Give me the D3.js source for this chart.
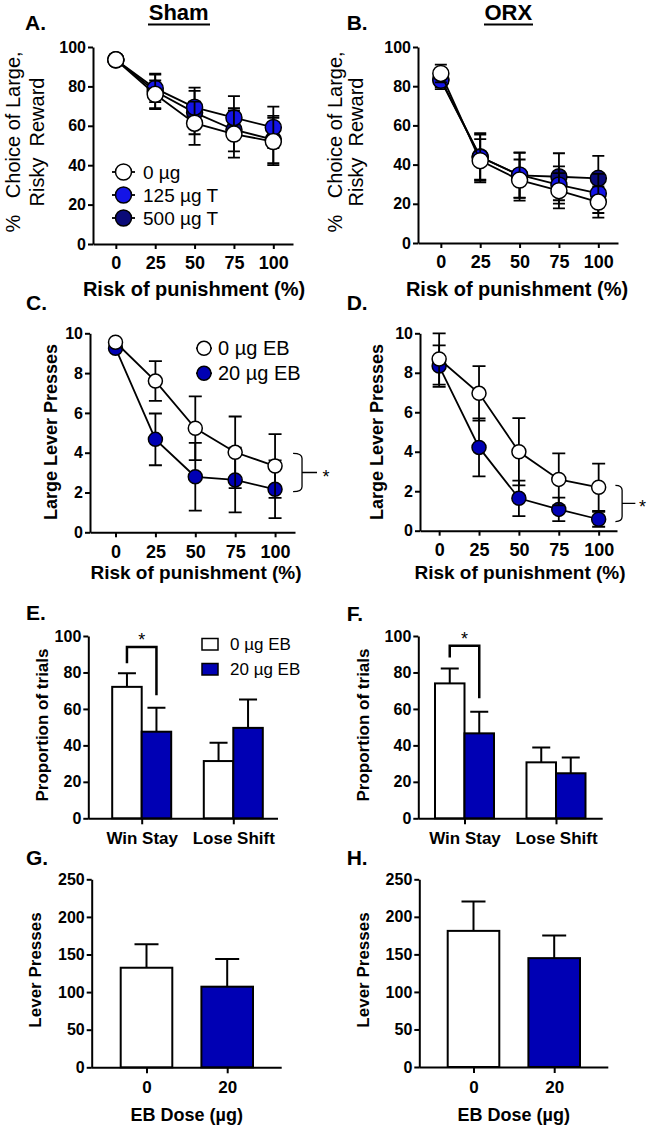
<!DOCTYPE html>
<html>
<head>
<meta charset="utf-8">
<script src="https://cdn.jsdelivr.net/npm/d3@7"></script>
<style>
  body { margin: 0; background: #fff; }
  svg text { fill: #000; }
</style>
</head>
<body>
<div id="fig"></div>
<script>
(function(){
  'use strict';

  // ---- data ----
  var riskLevels = [0, 25, 50, 75, 100];

  // A. Sham, % choice of large risky reward
  var shamVeh = [93.5, 76, 61.3, 55.8, 52],     shamVehErr = [1.5, 7, 11, 12, 12];
  var sham125 = [93.5, 79, 69.4, 64.1, 59.2],   sham125Err = [1.5, 7, 10, 11, 10.5];
  var sham500 = [93.5, 77.5, 66.7, 58, 53],     sham500Err = [1.5, 9, 11, 11, 12];

  // B. ORX
  var orxVeh = [86.5, 42, 32.1, 26.7, 20.9],    orxVehErr = [4.5, 11, 10.5, 9, 8];
  var orx125 = [83, 43.8, 34.7, 29.6, 25.3],    orx125Err = [4.5, 11.5, 11.5, 9.5, 10];
  var orx500 = [83.5, 44, 34.5, 33.8, 33],      orx500Err = [4, 12, 11.5, 12, 11.5];

  // C. Sham, large lever presses
  var shamEB0 = [9.55, 7.6, 5.23, 4.02, 3.33],  shamEB0Err = [0.15, 1.0, 1.6, 1.8, 1.6];
  var shamEB20 = [9.25, 4.67, 2.79, 2.63, 2.16], shamEB20Err = [0.15, 1.3, 1.7, 1.63, 1.45];

  // D. ORX, large lever presses
  var orxEB0 = [8.7, 6.96, 4.0, 2.6, 2.2],      orxEB0Err = [1.3, 1.38, 1.7, 1.32, 1.2];
  var orxEB20 = [8.34, 4.22, 1.64, 1.08, 0.58], orxEB20Err = [1.05, 1.47, 0.9, 0.6, 0.38];

  // E/F. win-stay / lose-shift
  var winLose = ['Win Stay', 'Lose Shift'];
  var shamWL0 = [72.1, 31.4],  shamWL0Err = [7.4, 10];
  var shamWL20 = [47.5, 49.6], shamWL20Err = [13.1, 15.6];
  var orxWL0 = [74, 30.7],     orxWL0Err = [8.2, 8.2];
  var orxWL20 = [46.6, 24.7],  orxWL20Err = [11.8, 8.7];

  // G/H. total lever presses
  var doses = ['0', '20'];
  var shamPress = [132.4, 107.2], shamPressErr = [31.2, 36.8];
  var orxPress = [181.3, 145],    orxPressErr = [39, 30];

  // significance annotations (data units)
  var shamWLSig = [85, 94, 67.5];   // left leg end, top, right leg end
  var orxWLSig = [88.2, 94.6, 65.8];
  var shamEBSig = [3.97, 2.04];
  var orxEBSig = [2.3, 0.46];

  var FONT = '"Liberation Sans", Arial, Helvetica, sans-serif';
  var blue = '#1414e6', navy = '#0a0a78', ebBlue = '#0000b4';

  var svg = d3.select('#fig').append('svg')
    .attr('width', 648)
    .attr('height', 1127)
    .style('background', '#fff');

  function txt(x, y, s, fs, opts) {
    opts = opts || {};
    var t = svg.append('text')
      .attr('x', x).attr('y', y)
      .attr('font-family', FONT)
      .attr('font-size', fs)
      .attr('font-weight', opts.bold ? 'bold' : 'normal')
      .attr('text-anchor', opts.anchor || 'start')
      .style('white-space', 'pre')
      .text(s);
    if (opts.dy) t.attr('dy', opts.dy);
    return t;
  }

  function vtxt(x, y, s, fs, bold) {
    return svg.append('text')
      .attr('transform', 'translate(' + x + ',' + y + ') rotate(-90)')
      .attr('dy', '0.35em')
      .attr('font-family', FONT)
      .attr('font-size', fs)
      .attr('font-weight', bold ? 'bold' : 'normal')
      .attr('text-anchor', 'middle')
      .style('white-space', 'pre')
      .text(s);
  }

  function styleAxis(sel, fs) {
    sel.select('.domain').attr('stroke-width', 2);
    sel.selectAll('.tick line').attr('stroke-width', 2);
    sel.selectAll('.tick text')
      .attr('font-size', fs)
      .attr('font-weight', 'bold')
      .attr('font-family', FONT);
  }

  // ---- line panels ----
  function linePanel(p) {
    var x = d3.scaleLinear().domain(p.xDom).range([p.left, p.right]),
        y = d3.scaleLinear().domain([0, p.yMax]).range([p.bottom, p.top]);

    svg.append('g')
      .attr('transform', 'translate(0,' + p.bottom + ')')
      .call(d3.axisBottom(x).tickValues(riskLevels).tickSize(5).tickSizeOuter(0).tickPadding(p.xPad))
      .call(styleAxis, p.xFont);

    svg.append('g')
      .attr('transform', 'translate(' + p.left + ',0)')
      .call(d3.axisLeft(y).tickValues(d3.range(0, p.yMax + p.yStep / 2, p.yStep)).tickSize(5).tickSizeOuter(0).tickPadding(2))
      .call(styleAxis, 16);

    var line = d3.line()
      .x(function(d) { return x(d.r); })
      .y(function(d) { return y(d.v); });

    p.series.forEach(function(s) {
      var pts = riskLevels.map(function(r, i) { return {r: r, v: s.vals[i], e: s.err[i]}; });
      var g = svg.append('g');

      g.selectAll('.eb').data(pts).enter().append('path')
        .attr('d', function(d) {
          var cx = x(d.r), y0 = y(d.v - d.e), y1 = y(d.v + d.e);
          return 'M' + cx + ',' + y0 + 'V' + y1 +
                 'M' + (cx - p.cap) + ',' + y0 + 'H' + (cx + p.cap) +
                 'M' + (cx - p.cap) + ',' + y1 + 'H' + (cx + p.cap);
        })
        .attr('fill', 'none').attr('stroke', '#000').attr('stroke-width', 1.8);

      g.append('path').datum(pts)
        .attr('d', line)
        .attr('fill', 'none').attr('stroke', '#000').attr('stroke-width', 1.8);

      g.selectAll('circle').data(pts).enter().append('circle')
        .attr('cx', function(d) { return x(d.r); })
        .attr('cy', function(d) { return y(d.v); })
        .attr('r', p.r)
        .attr('fill', s.fill)
        .attr('stroke', '#000').attr('stroke-width', 1.5);
    });

    return {x: x, y: y};
  }

  function brace(sc, xs, ys, starX) {
    var x0 = sc.x(xs[0]), x1 = sc.x(xs[1]), x2 = sc.x(xs[2]),
        yT = sc.y(ys[0]), yB = sc.y(ys[1]), ym = (yT + yB) / 2;
    svg.append('path')
      .attr('d', 'M' + x0 + ',' + yT + 'Q' + x1 + ',' + yT + ' ' + x1 + ',' + (yT + 5) +
                 'V' + (yB - 5) + 'Q' + x1 + ',' + yB + ' ' + x0 + ',' + yB +
                 'M' + x1 + ',' + ym + 'H' + x2)
      .attr('fill', 'none').attr('stroke', '#000').attr('stroke-width', 1.3);
    txt(sc.x(starX), ym + 10, '*', 18, {anchor: 'middle'});
  }

  // ---- bar panels ----
  function barPanel(p) {
    var x = d3.scalePoint().domain(p.groups).range(p.groupRange),
        y = d3.scaleLinear().domain([0, p.yMax]).range([p.bottom, p.top]);

    var xa = svg.append('g')
      .attr('transform', 'translate(0,' + p.bottom + ')')
      .call(d3.axisBottom(x).tickSize(6).tickSizeOuter(0).tickPadding(p.xPad))
      .call(styleAxis, 17);
    xa.select('.domain').attr('d', 'M' + p.left + ',0.5H' + p.right);

    svg.append('g')
      .attr('transform', 'translate(' + p.left + ',0)')
      .call(d3.axisLeft(y).tickValues(d3.range(0, p.yMax + p.yStep / 2, p.yStep)).tickSize(5).tickSizeOuter(0).tickPadding(2))
      .call(styleAxis, 16);

    var g = svg.append('g');
    var bx = function(d) { return x(d.group) + d.offset * p.barW; };

    g.selectAll('.eb').data(p.bars).enter().append('path')
      .attr('d', function(d) {
        var cx = bx(d) + p.barW / 2, y1 = y(d.value + d.err);
        return 'M' + cx + ',' + y(d.value) + 'V' + y1 +
               'M' + (cx - p.cap) + ',' + y1 + 'H' + (cx + p.cap);
      })
      .attr('fill', 'none').attr('stroke', '#000').attr('stroke-width', 2);

    g.selectAll('rect').data(p.bars).enter().append('rect')
      .attr('x', bx)
      .attr('y', function(d) { return y(d.value); })
      .attr('width', p.barW)
      .attr('height', function(d) { return y(0) - y(d.value); })
      .attr('fill', function(d) { return d.fill; })
      .attr('stroke', '#000').attr('stroke-width', 2);

    return {x: x, y: y, bx: bx, barW: p.barW, bars: p.bars};
  }

  function sigBar(sc, a, b, levels) {
    var xa = sc.bx(a) + sc.barW / 2, xb = sc.bx(b) + sc.barW / 2;
    svg.append('path')
      .attr('d', 'M' + xa + ',' + sc.y(levels[0]) + 'V' + sc.y(levels[1]) +
                 'H' + xb + 'V' + sc.y(levels[2]))
      .attr('fill', 'none').attr('stroke', '#000').attr('stroke-width', 2.5);
    txt((xa + xb) / 2, sc.y(levels[1]) - 1, '*', 18, {anchor: 'middle'});
  }

  function wlBars(v0, e0, v1, e1) {
    var out = [];
    winLose.forEach(function(gr, i) {
      out.push({group: gr, value: v0[i], err: e0[i], fill: '#fff', offset: -1});
      out.push({group: gr, value: v1[i], err: e1[i], fill: ebBlue, offset: 0});
    });
    return out;
  }

  function doseBars(v, e) {
    return doses.map(function(d, i) {
      return {group: d, value: v[i], err: e[i], fill: i ? ebBlue : '#fff', offset: -0.5};
    });
  }

  // ---- A / B ----
  linePanel({left: 93, right: 293, top: 47, bottom: 244, xDom: [-14.5, 112.5],
    yMax: 100, yStep: 20, r: 8, cap: 6, xFont: 18, xPad: 7,
    series: [
      {vals: sham500, err: sham500Err, fill: navy},
      {vals: sham125, err: sham125Err, fill: blue},
      {vals: shamVeh, err: shamVehErr, fill: '#fff'}
    ]});
  linePanel({left: 418, right: 618, top: 47, bottom: 243, xDom: [-14.5, 112.5],
    yMax: 100, yStep: 20, r: 8, cap: 6, xFont: 18, xPad: 7,
    series: [
      {vals: orx500, err: orx500Err, fill: navy},
      {vals: orx125, err: orx125Err, fill: blue},
      {vals: orxVeh, err: orxVehErr, fill: '#fff'}
    ]});

  // legend A
  [['0 \u00b5g', '#fff'], ['125 \u00b5g T', blue], ['500 \u00b5g T', navy]].forEach(function(l, i) {
    var ly = 172 + i * 23;
    svg.append('line').attr('x1', 112).attr('x2', 135).attr('y1', ly).attr('y2', ly)
      .attr('stroke', '#000').attr('stroke-width', 1.8);
    svg.append('circle').attr('cx', 123.5).attr('cy', ly).attr('r', 8)
      .attr('fill', l[1]).attr('stroke', '#000').attr('stroke-width', 1.5);
    txt(143, ly, l[0], 19, {dy: '0.35em'});
  });

  txt(178.7, 20, 'Sham', 22, {bold: true, anchor: 'middle'});
  svg.append('line').attr('x1', 148).attr('x2', 210).attr('y1', 24.5).attr('y2', 24.5)
    .attr('stroke', '#000').attr('stroke-width', 2);
  txt(508.3, 20, 'ORX', 22, {bold: true, anchor: 'middle'});
  svg.append('line').attr('x1', 484).attr('x2', 533).attr('y1', 24.5).attr('y2', 24.5)
    .attr('stroke', '#000').attr('stroke-width', 2);

  txt(25, 30, 'A.', 21, {bold: true});
  txt(346.7, 30, 'B.', 21, {bold: true});

  vtxt(13.3, 142, '%   Choice of Large,', 20);
  vtxt(36.5, 142, 'Risky  Reward', 20);
  vtxt(335, 142, '%   Choice of Large,', 20);
  vtxt(356, 142, 'Risky  Reward', 20);

  txt(194, 296, 'Risk of punishment (%)', 20, {bold: true, anchor: 'middle'});
  txt(517, 296, 'Risk of punishment (%)', 20, {bold: true, anchor: 'middle'});

  // ---- C / D ----
  var scC = linePanel({left: 90, right: 295, top: 333.3, bottom: 532.3, xDom: [-16, 112.5],
    yMax: 10, yStep: 2, r: 7, cap: 6.5, xFont: 18, xPad: 8,
    series: [
      {vals: shamEB20, err: shamEB20Err, fill: ebBlue},
      {vals: shamEB0, err: shamEB0Err, fill: '#fff'}
    ]});
  var scD = linePanel({left: 420, right: 617, top: 333.3, bottom: 530.7, xDom: [-12, 111.5],
    yMax: 10, yStep: 2, r: 7, cap: 6.5, xFont: 18, xPad: 8,
    series: [
      {vals: orxEB20, err: orxEB20Err, fill: ebBlue},
      {vals: orxEB0, err: orxEB0Err, fill: '#fff'}
    ]});

  brace(scC, [111.3, 116.9, 126.3], shamEBSig, 132);
  brace(scD, [110.5, 114.7, 123], orxEBSig, 127.5);

  [['0 \u00b5g EB', '#fff'], ['20 \u00b5g EB', ebBlue]].forEach(function(l, i) {
    var ly = 348.3 + i * 25;
    svg.append('line').attr('x1', 196).attr('x2', 212).attr('y1', ly).attr('y2', ly)
      .attr('stroke', '#000').attr('stroke-width', 1.8);
    svg.append('circle').attr('cx', 204).attr('cy', ly).attr('r', 7)
      .attr('fill', l[1]).attr('stroke', '#000').attr('stroke-width', 1.5);
    txt(218, ly, l[0], 20, {dy: '0.35em'});
  });

  txt(26, 310, 'C.', 21, {bold: true});
  txt(346.7, 310, 'D.', 21, {bold: true});
  vtxt(50.7, 432, 'Large Lever Presses', 18, true);
  vtxt(376.7, 432, 'Large Lever Presses', 18, true);
  txt(196, 578.5, 'Risk of punishment (%)', 19, {bold: true, anchor: 'middle'});
  txt(520, 578.5, 'Risk of punishment (%)', 19, {bold: true, anchor: 'middle'});

  // ---- E / F ----
  var scE = barPanel({left: 88.3, right: 278, top: 636, bottom: 818.3, groups: winLose,
    groupRange: [141.7, 233.3], barW: 29.5, cap: 9, yMax: 100, yStep: 20, xPad: 8,
    bars: wlBars(shamWL0, shamWL0Err, shamWL20, shamWL20Err)});
  var scF = barPanel({left: 418.3, right: 602.7, top: 636, bottom: 818.3, groups: winLose,
    groupRange: [464.5, 556], barW: 29.5, cap: 9, yMax: 100, yStep: 20, xPad: 8,
    bars: wlBars(orxWL0, orxWL0Err, orxWL20, orxWL20Err)});

  sigBar(scE, scE.bars[0], scE.bars[1], shamWLSig);
  sigBar(scF, scF.bars[0], scF.bars[1], orxWLSig);

  [['0 \u00b5g EB', '#fff'], ['20 \u00b5g EB', ebBlue]].forEach(function(l, i) {
    var ly = 638.5 + i * 25;
    svg.append('rect').attr('x', 202).attr('y', ly).attr('width', 16).attr('height', 11.5)
      .attr('fill', l[1]).attr('stroke', '#000').attr('stroke-width', 1.5);
    txt(230, ly + 6, l[0], 17, {dy: '0.35em'});
  });

  txt(26, 620, 'E.', 21, {bold: true});
  txt(346.7, 621, 'F.', 21, {bold: true});
  vtxt(41.7, 725, 'Proportion of trials', 17, true);
  vtxt(363.3, 725, 'Proportion of trials', 17, true);

  // ---- G / H ----
  barPanel({left: 91.7, right: 281.7, top: 879.3, bottom: 1067.3, groups: doses,
    groupRange: [146.5, 227.2], barW: 51.6, cap: 12, yMax: 250, yStep: 50, xPad: 8,
    bars: doseBars(shamPress, shamPressErr)});
  barPanel({left: 419.3, right: 608.3, top: 879.3, bottom: 1067, groups: doses,
    groupRange: [473.5, 554.2], barW: 51.6, cap: 12, yMax: 250, yStep: 50, xPad: 8,
    bars: doseBars(orxPress, orxPressErr)});

  txt(26, 865, 'G.', 21, {bold: true});
  txt(346.7, 865, 'H.', 21, {bold: true});
  vtxt(35, 970, 'Lever Presses', 17, true);
  vtxt(363.3, 970, 'Lever Presses', 17, true);
  txt(186.7, 1120.7, 'EB Dose (\u00b5g)', 18, {bold: true, anchor: 'middle'});
  txt(513.8, 1120.7, 'EB Dose (\u00b5g)', 18, {bold: true, anchor: 'middle'});

}());
</script>
</body>
</html>
